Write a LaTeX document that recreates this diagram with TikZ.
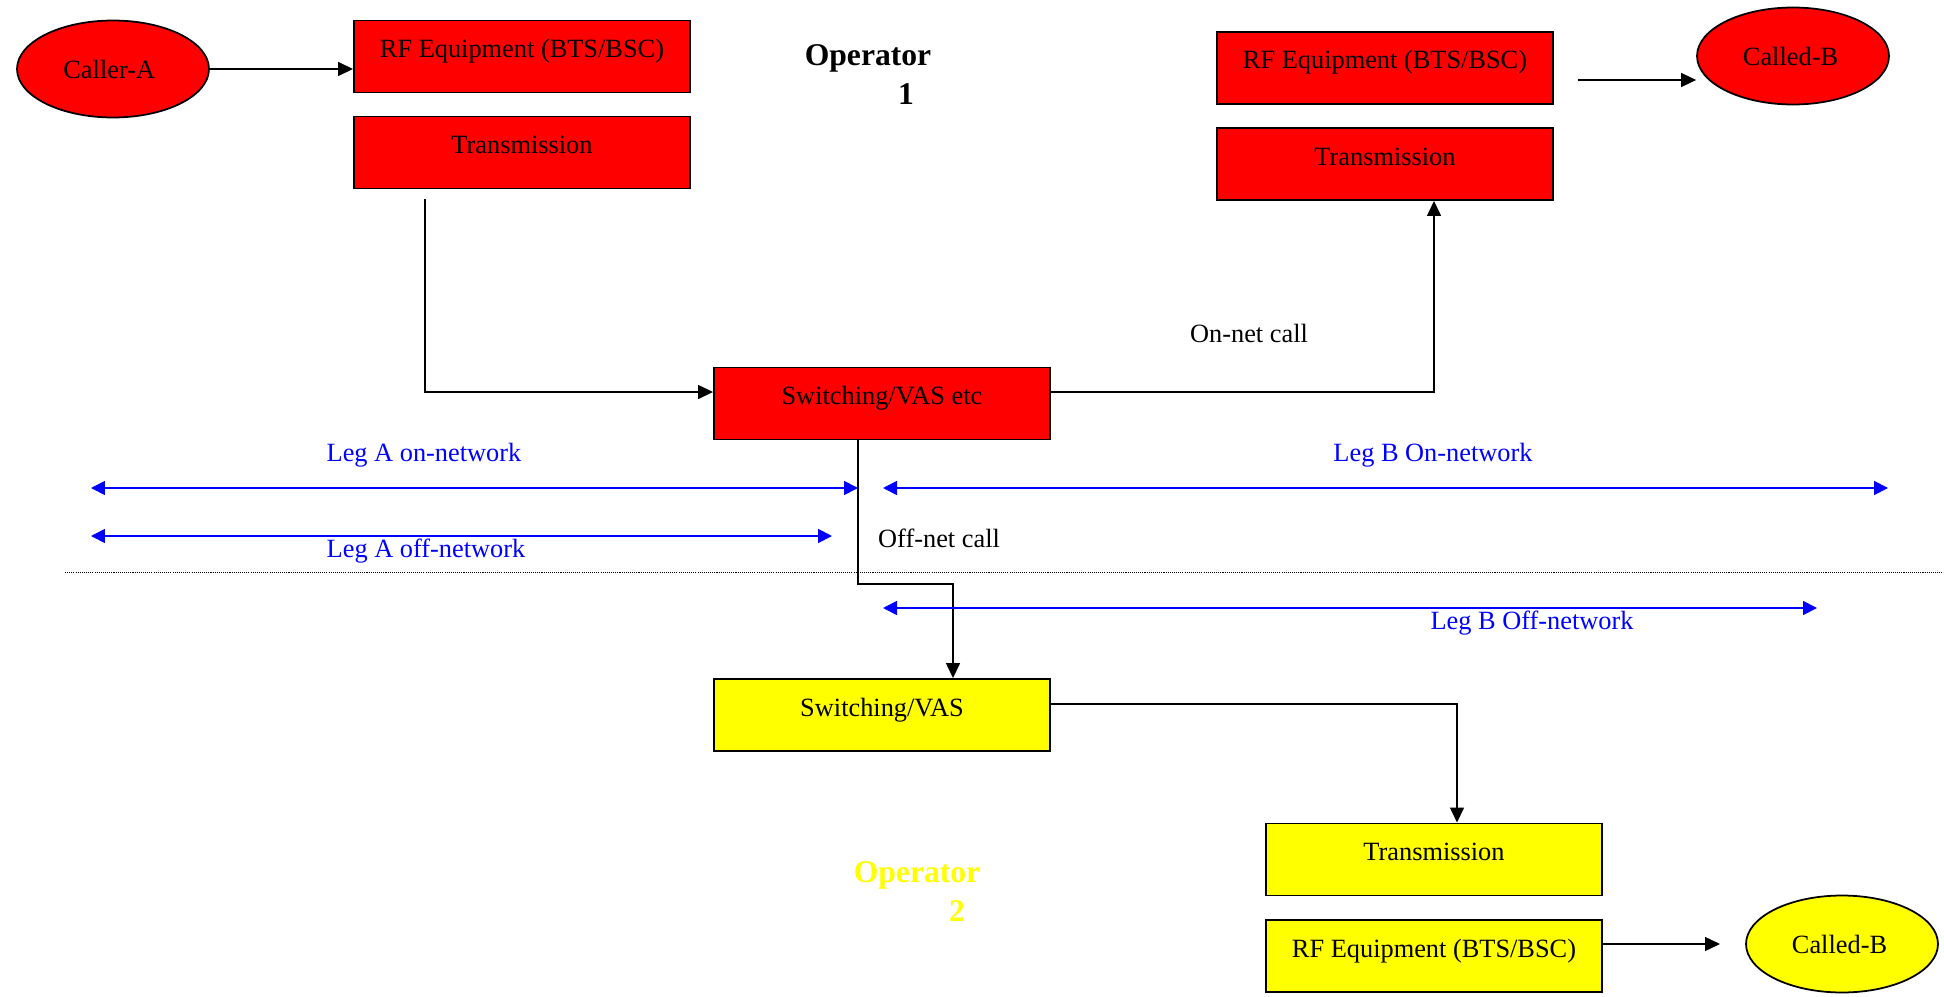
\documentclass[tikz,border=0pt]{standalone}
\usepackage{fontspec}
\setmainfont{Liberation Serif}
\usetikzlibrary{shapes.geometric, arrows.meta}
\definecolor{opred}{RGB}{255,0,0}
\definecolor{opyellow}{RGB}{255,255,0}
\definecolor{legblue}{RGB}{0,0,255}

\begin{document}
\begin{tikzpicture}[x=0.02cm, y=-0.02cm,
    box/.style={draw, line width=1.1pt, minimum width=6.72cm, inner ysep=0pt,
        text height=0.74cm, text depth=0.70cm, font=\fontsize{15}{18}\selectfont},
    redbox/.style={box, fill=opred},
    yellowbox/.style={box, fill=opyellow},
    phone/.style={ellipse, draw, line width=1pt, minimum width=3.84cm,
        minimum height=1.94cm, inner sep=0pt, font=\fontsize{15}{18}\selectfont},
    conn/.style={line width=0.8pt, -{Triangle[length=0.3cm, width=0.28cm]}},
    leg/.style={legblue, line width=1pt,
        {Triangle[length=0.28cm, width=0.28cm]}-{Triangle[length=0.28cm, width=0.28cm]}},
    legtext/.style={legblue, font=\fontsize{15}{18}\selectfont},
    calltext/.style={font=\fontsize{15}{18}\selectfont},
    optext/.style={font=\bfseries\fontsize{18}{22}\selectfont}]
    \useasboundingbox (0,0) rectangle (1944,997);

    % Operator 1 (red)
    \node[phone, fill=opred] (callerA) at (113,69) {Caller-A\hspace*{0.15cm}};
    \node[redbox] (rfA) at (522,56.5) {RF Equipment (BTS/BSC)};
    \node[redbox] (transA) at (522,152.5) {Transmission};
    \node[redbox] (switchA) at (882,403.5) {Switching/VAS etc};
    \node[redbox] (rfB) at (1385,68) {RF Equipment (BTS/BSC)};
    \node[redbox] (transB) at (1385,164) {Transmission};
    \node[phone, fill=opred] (calledB) at (1793,56) {Called-B\hspace*{0.1cm}};
    \node[optext] (opA) at (868,58) {Operator};
    \node[optext] (opAnum) at (906,94) {1};

    % Operator 2 (yellow)
    \node[yellowbox] (switchC) at (882,715) {Switching/VAS};
    \node[yellowbox] (transC) at (1434,859.5) {Transmission};
    \node[yellowbox] (rfC) at (1434,956) {RF Equipment (BTS/BSC)};
    \node[phone, fill=opyellow] (calledC) at (1842,944) {Called-B\hspace*{0.1cm}};
    \node[optext, opyellow] (opC) at (917,875) {Operator};
    \node[optext, opyellow] (opCnum) at (957,911) {2};

    % call paths
    \coordinate (transAout) at (425,199);
    \coordinate (rfBout) at (1578,80);
    \coordinate (offBend) at (953,584);
    \coordinate (calledCin) at (1720,944);
    \draw[conn] (callerA.east) -- (callerA.east -| rfA.west);
    \draw[conn] (transAout) |- (switchA.west |- 0,392);
    \draw[conn] (switchA.east |- 0,392) -| (transB.south -| 1434,0);
    \draw[conn] (rfBout) -- (rfBout -| calledB.west);
    \draw[conn] (switchA.south -| 858,0) |- (offBend) -- (offBend |- switchC.north);
    \draw[conn] (switchC.east |- 0,704) -| (transC.north -| 1457,0);
    \draw[conn] (rfC.east |- calledCin) -- (calledCin);
    \node[calltext] (onnet) at (1249,333) {On-net call};
    \node[calltext, anchor=west] (offnet) at (872,538) {Off-net call};

    % legs
    \coordinate (legAonL) at (91,488);
    \coordinate (legAonR) at (858,488);
    \coordinate (legAoffL) at (91,536);
    \coordinate (legAoffR) at (832,536);
    \coordinate (legBonL) at (883,488);
    \coordinate (legBonR) at (1888,488);
    \coordinate (legBoffL) at (883,608);
    \coordinate (legBoffR) at (1817,608);
    \draw[leg] (legAonL) -- (legAonR);
    \draw[leg] (legAoffL) -- (legAoffR);
    \draw[leg] (legBonL) -- (legBonR);
    \draw[leg] (legBoffL) -- (legBoffR);
    \node[legtext] (legAon) at (424,455) {Leg A on-network};
    \node[legtext] (legAoff) at (426,551) {Leg A off-network};
    \node[legtext] (legBon) at (1433,455) {Leg B On-network};
    \node[legtext] (legBoff) at (1532,623) {Leg B Off-network};

    % operator border
    \draw[line width=0.4pt, dash pattern=on 0.6pt off 0.6pt] (65,572) -- (1944,572);
\end{tikzpicture}
\end{document}
